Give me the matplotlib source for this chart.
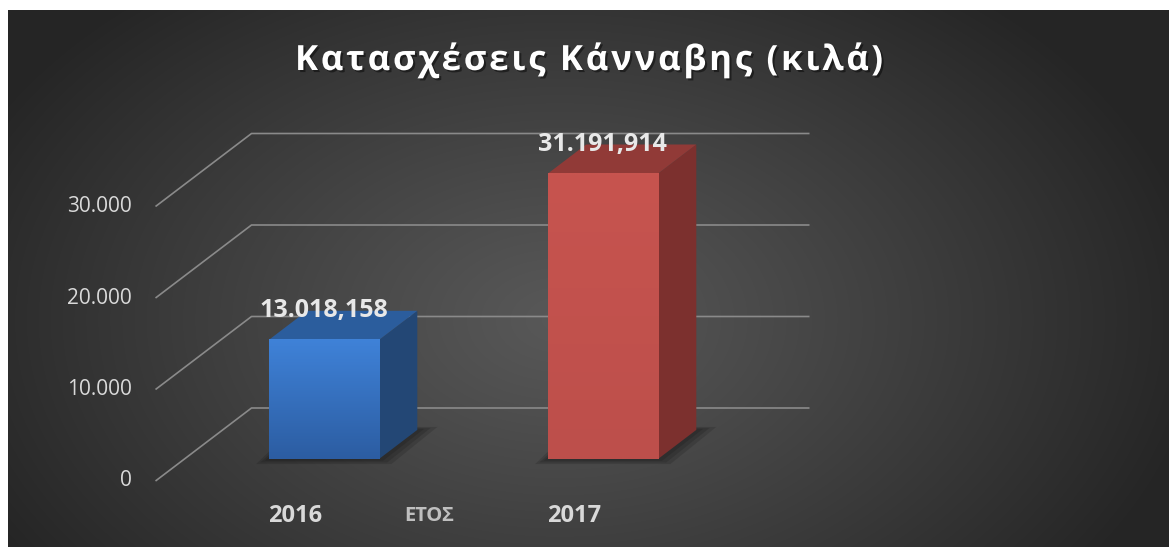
import numpy as np
import matplotlib
matplotlib.use("Agg")
import matplotlib.pyplot as plt
from matplotlib.patches import Polygon
import matplotlib.patheffects as pe

# ---------------- data ----------------
years = ["2016", "2017"]
seizures_kg = [13018.158, 31191.914]
value_labels = ["13.018,158", "31.191,914"]
tick_values = [0, 10000, 20000, 30000]
tick_labels = ["0", "10.000", "20.000", "30.000"]
title_text = "Κατασχέσεις Κάνναβης (κιλά)"
axis_title = "ΕΤΟΣ"

front_colors = [("#3f82d8", "#2c5da2"), ("#c7544f", "#bd4f4b")]
side_colors = ["#234775", "#7c302e"]
top_colors = ["#2b5d9d", "#913a37"]

W, H, DPI = 1169, 547, 100
FONT = ["Open Sans", "DejaVu Sans"]

fig = plt.figure(figsize=(W / DPI, H / DPI), dpi=DPI, facecolor="white")

# ---------------- background panel (radial gradient) ----------------
x0p, y0p = 8, 10
bg = fig.add_axes([x0p / W, 0, (W - x0p) / W, (H - y0p) / H])
bg.set_axis_off()
px = np.arange(x0p, W) + 0.5
py = np.arange(y0p, H) + 0.5
PX, PY = np.meshgrid(px, py)
d = np.sqrt(((PX - 560) / 650.0) ** 2 + ((PY - 320) / 430.0) ** 2)
t = np.clip(d, 0, 1) ** 1.1
c_in, c_out = 0x58 / 255, 0x25 / 255
img = c_in + (c_out - c_in) * t
bg.imshow(np.dstack([img, img, img]), aspect="auto", interpolation="bilinear")

# ---------------- main axes (oblique 3D projection) ----------------
X0PX, CATPX = 295.0, 279.0          # pixel of category 0, pixels per category
Y0PX, VPX = 481.0, 0.00915          # pixel row of value 0, pixels per unit value
ax = fig.add_axes([0, 0, 1, 1])
ax.set_xlim((0 - X0PX) / CATPX, (W - X0PX) / CATPX)
ax.set_ylim((Y0PX - H) / VPX, Y0PX / VPX)
ax.set_axis_off()
ax.patch.set_alpha(0)

DX = 96.0 / CATPX      # full depth shift (category units)
DY = 73.0 / VPX        # full depth shift (value units)
f1, f2 = 0.30, 0.70    # bar depth extent
bw = 0.395
xl, xr = -0.5, 1.5

grid_c = "#8a8a8a"
for v, lbl in zip(tick_values, tick_labels):
    ax.plot([xl, xl + DX, xr + DX], [v, v + DY, v + DY], color=grid_c, lw=1.2, zorder=1,
            solid_capstyle="butt")
    ax.annotate(lbl, (xl, v), xytext=(-17, 0),
                textcoords="offset points", ha="right", va="center",
                color="#d9d9d9", fontsize=15, family=FONT)

for i, (val, lab) in enumerate(zip(seizures_kg, value_labels)):
    cx = i + f1 * DX
    b = f1 * DY
    a, c = cx - bw / 2, cx + bw / 2
    dd, ddy = (f2 - f1) * DX, (f2 - f1) * DY
    # soft shadow on floor
    for k, grow in enumerate([0.045, 0.03, 0.015]):
        gy = grow * 12000
        ax.add_patch(Polygon([(a - grow, b - gy), (c + grow, b - gy),
                              (c + dd + grow * 1.6, b + ddy + gy * 0.6),
                              (a + dd - grow, b + ddy + gy * 0.6)],
                             closed=True, facecolor="black", alpha=0.13,
                             edgecolor="none", zorder=2))
    # front face
    ax.bar([cx], [val], bottom=[b], width=bw, color=front_colors[i][0],
           edgecolor="none", zorder=4)
    top_c = np.array(matplotlib.colors.to_rgb(front_colors[i][0]))
    bot_c = np.array(matplotlib.colors.to_rgb(front_colors[i][1]))
    g = np.linspace(0, 1, 64)[:, None]
    grad = top_c[None, :] * (1 - g) + bot_c[None, :] * g
    ax.imshow(grad[:, None, :], extent=(a, c, b, b + val), aspect="auto",
              interpolation="bilinear", zorder=4.1)
    # side face
    ax.add_patch(Polygon([(c, b), (c + dd, b + ddy), (c + dd, b + ddy + val), (c, b + val)],
                         closed=True, facecolor=side_colors[i], edgecolor="none", zorder=3.5))
    # top face
    ax.add_patch(Polygon([(a, b + val), (c, b + val), (c + dd, b + val + ddy),
                          (a + dd, b + val + ddy)], closed=True, facecolor=top_colors[i],
                         edgecolor="none", zorder=3.6))
    # value label
    ax.text(cx, val + f2 * DY, lab, ha="center", va="center", color="#e8e8e8",
            fontsize=18, fontweight="bold", family=FONT, zorder=6)
    # category label
    ax.annotate(years[i], (i, 0), xytext=(0, -25.5), textcoords="offset points",
                ha="center", va="center", color="#d9d9d9", fontsize=17,
                fontweight="bold", family=FONT)

ax.annotate(axis_title, (0.48, 0), xytext=(0, -25.5), textcoords="offset points",
            ha="center", va="center", color="#bfbfbf", fontsize=14.5,
            fontweight="bold", family=FONT)

# ---------------- title with letter spacing ----------------
renderer = fig.canvas.get_renderer()
tfs = 25
target_w = 588.0
tmp = fig.text(0, 0, title_text, fontsize=tfs, fontweight="bold", family=FONT)
full_w = tmp.get_window_extent(renderer).width
tmp.remove()
spacing = (target_w - full_w) / (len(title_text) - 1)
start = 589 - target_w / 2
shadow = [pe.withSimplePatchShadow(offset=(1.5, -1.5), shadow_rgbFace="black", alpha=0.45)]
for k, ch in enumerate(title_text):
    if k == 0:
        pw = 0.0
    else:
        tp = fig.text(0, 0, title_text[:k], fontsize=tfs, fontweight="bold", family=FONT)
        pw = tp.get_window_extent(renderer).width
        tp.remove()
    if ch == " ":
        continue
    fig.text((start + pw + k * spacing) / W, 1 - 70 / H, ch, fontsize=tfs, fontweight="bold",
             family=FONT, color="white", ha="left", va="baseline", path_effects=shadow)

fig.savefig("out.png", dpi=DPI, facecolor="white")
